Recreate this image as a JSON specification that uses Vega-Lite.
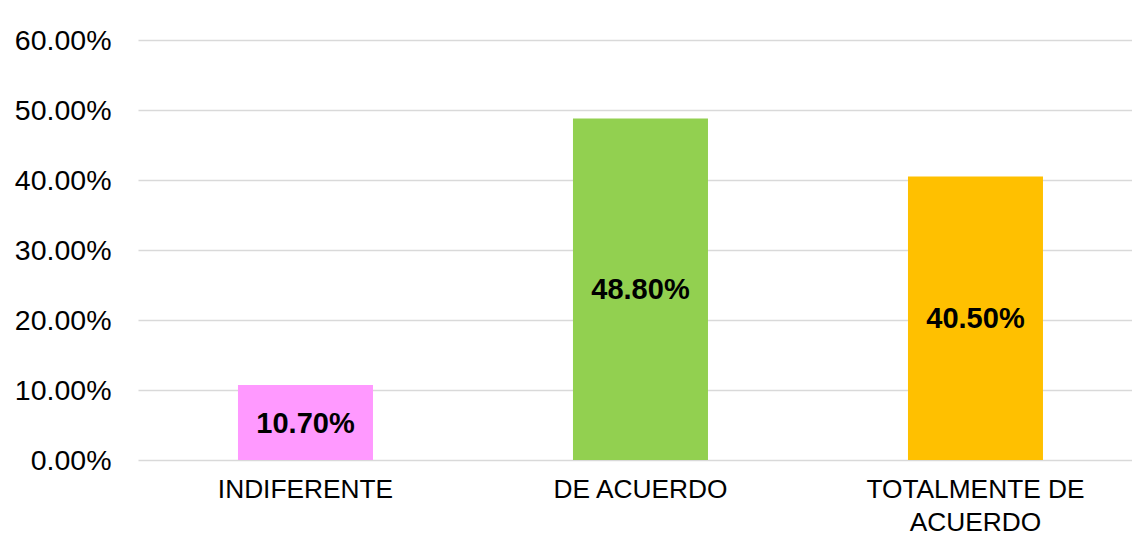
{
  "$schema": "https://vega.github.io/schema/vega-lite/v6.json",
  "autosize": {"type": "none"},
  "padding": {"left": 138, "top": 40, "right": 0, "bottom": 93},
  "width": 994,
  "height": 420,
  "background": "white",
  "config": {
    "view": {"stroke": null},
    "font": "Liberation Sans"
  },
  "data": {
    "values": [
      {"categoria": "INDIFERENTE", "v": 0.107},
      {"categoria": "DE ACUERDO", "v": 0.488},
      {"categoria": "TOTALMENTE DE ACUERDO", "v": 0.405}
    ]
  },
  "transform": [{"calculate": "datum.v / 2", "as": "mid"}],
  "encoding": {
    "x": {
      "field": "categoria",
      "type": "nominal",
      "sort": null,
      "scale": {"paddingInner": 0.597, "paddingOuter": 0.2821, "align": 0.529},
      "axis": {
        "title": null,
        "labelAngle": 0,
        "domain": false,
        "ticks": false,
        "labelFont": "Liberation Sans",
        "labelFontSize": 26.3,
        "labelColor": "#000000",
        "labelPadding": 16,
        "labelLineHeight": 33,
        "labelLimit": 400,
        "labelExpr": "datum.label == 'TOTALMENTE DE ACUERDO' ? ['TOTALMENTE DE', 'ACUERDO'] : datum.label"
      }
    }
  },
  "layer": [
    {
      "mark": {"type": "bar"},
      "encoding": {
        "y": {
          "field": "v",
          "type": "quantitative",
          "scale": {"domain": [0, 0.6], "nice": false},
          "axis": {
            "title": null,
            "values": [0, 0.1, 0.2, 0.3, 0.4, 0.5, 0.6],
            "format": ".2%",
            "domain": false,
            "ticks": false,
            "grid": true,
            "gridColor": "#d9d9d9",
            "gridWidth": 1.5,
            "labelFont": "Liberation Sans",
            "labelFontSize": 28.5,
            "labelColor": "#000000",
            "labelPadding": 27
          }
        },
        "color": {
          "field": "categoria",
          "type": "nominal",
          "sort": null,
          "scale": {
            "domain": ["INDIFERENTE", "DE ACUERDO", "TOTALMENTE DE ACUERDO"],
            "range": ["#FF99FF", "#92D050", "#FFC000"]
          },
          "legend": null
        }
      }
    },
    {
      "mark": {
        "type": "text",
        "font": "Liberation Sans",
        "fontSize": 29,
        "fontWeight": "bold",
        "color": "#000000",
        "baseline": "middle",
        "align": "center",
        "dy": 1
      },
      "encoding": {
        "y": {"field": "mid", "type": "quantitative"},
        "text": {"field": "v", "type": "quantitative", "format": ".2%"}
      }
    }
  ]
}
